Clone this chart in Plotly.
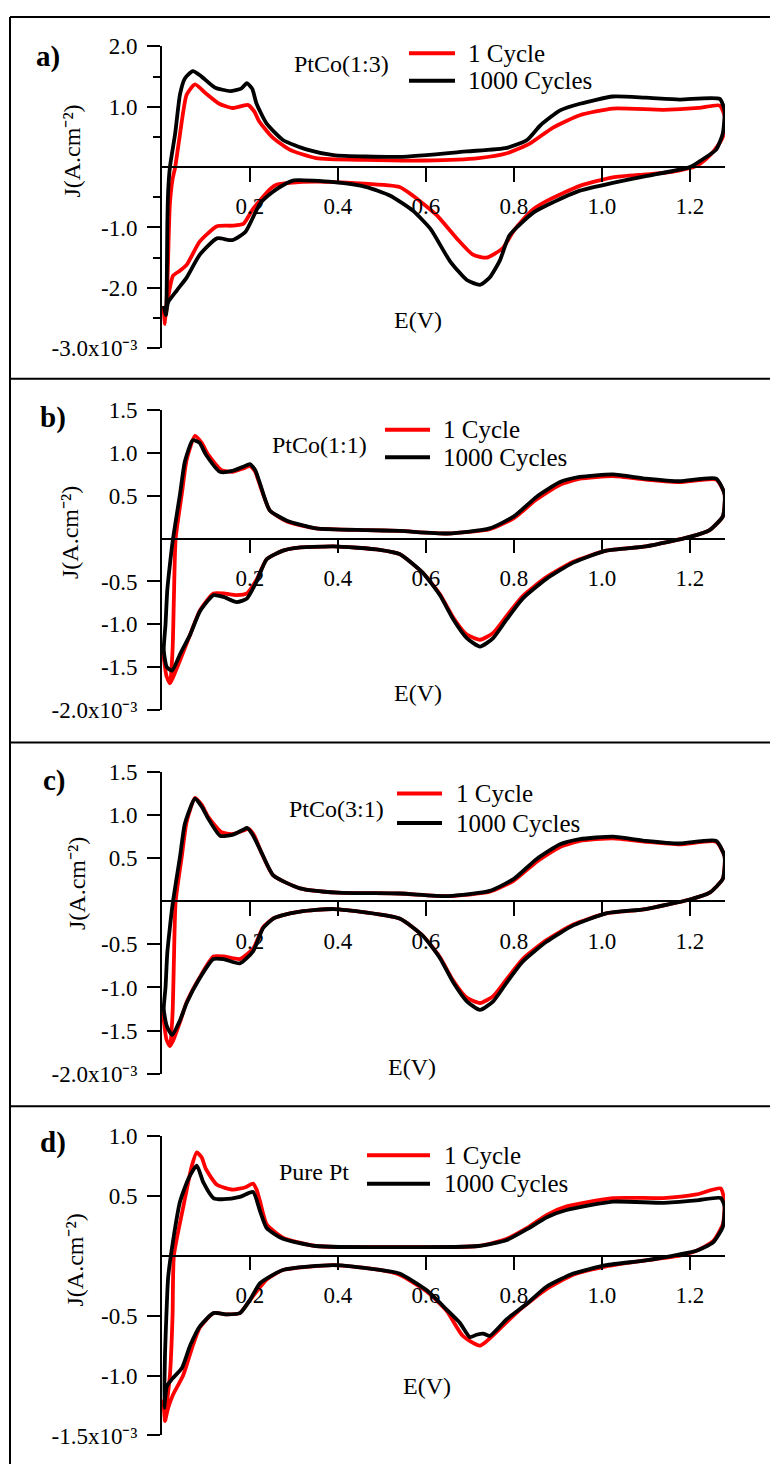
import plotly.graph_objects as go

W, H = 770, 1477
FONT = "Liberation Serif, Times New Roman, serif"

series_names = ["1 Cycle", "1000 Cycles"]
series_colors = ["#ff0000", "#000000"]
panel_tags = ["a)", "b)", "c)", "d)"]
panel_titles = ["PtCo(1:3)", "PtCo(1:1)", "PtCo(3:1)", "Pure Pt"]

x_tickvals = [0.2, 0.4, 0.6, 0.8, 1.0, 1.2]
x_ticktext = ["0.2", "0.4", "0.6", "0.8", "1.0", "1.2"]

# ---------------- panel a : PtCo(1:3) ----------------
a_c1_E = [0.003, 0.007, 0.012, 0.015, 0.018, 0.024, 0.03, 0.04, 0.056, 0.075, 0.1, 0.13, 0.16, 0.185, 0.196,
          0.21, 0.22, 0.25, 0.29, 0.35, 0.46, 0.6, 0.72, 0.784, 0.836, 0.89, 0.95, 1.025, 1.14, 1.22, 1.268,
          1.279, 1.275, 1.257, 1.235, 1.215, 1.16, 1.1, 1.025, 0.95, 0.875, 0.84, 0.8, 0.775, 0.738, 0.707,
          0.67, 0.625, 0.57, 0.54, 0.45, 0.35, 0.29, 0.26, 0.245, 0.207, 0.185, 0.16, 0.125, 0.086, 0.056,
          0.04, 0.025, 0.014, 0.009]
a_c1_J = [-2.3, -2.6, -2.0, -1.2, -0.6, -0.2, 0.0, 0.5, 1.2, 1.37, 1.22, 1.05, 0.98, 1.02, 1.03,
          0.92, 0.77, 0.5, 0.29, 0.15, 0.12, 0.11, 0.15, 0.23, 0.39, 0.66, 0.86, 0.97, 0.95, 0.98, 1.02,
          0.85, 0.5, 0.29, 0.12, 0.02, -0.08, -0.12, -0.17, -0.31, -0.56, -0.72, -1.05, -1.34, -1.5, -1.45,
          -1.18, -0.8, -0.47, -0.33, -0.27, -0.24, -0.26, -0.29, -0.37, -0.69, -0.94, -0.97, -0.98, -1.23, -1.62,
          -1.72, -1.8, -2.16, -2.45]
a_c1000_E = [0.004, 0.009, 0.011, 0.012, 0.014, 0.018, 0.03, 0.041, 0.052, 0.07, 0.09, 0.12, 0.155, 0.18, 0.193,
             0.205, 0.215, 0.238, 0.275, 0.33, 0.39, 0.54, 0.693, 0.784, 0.83, 0.86, 0.905, 0.95, 1.025, 1.1,
             1.177, 1.268, 1.279, 1.275, 1.26, 1.223, 1.2, 1.1, 1.025, 0.95, 0.89, 0.845, 0.79, 0.768, 0.745,
             0.723, 0.693, 0.655, 0.61, 0.57, 0.518, 0.465, 0.39, 0.3, 0.275, 0.25, 0.223, 0.19, 0.16, 0.125,
             0.086, 0.056, 0.034, 0.014, 0.009]
a_c1000_J = [-2.3, -2.45, -1.8, -1.0, -0.4, 0.0, 0.56, 1.21, 1.47, 1.59, 1.5, 1.32, 1.26, 1.3, 1.39,
             1.3, 1.05, 0.72, 0.45, 0.29, 0.2, 0.17, 0.26, 0.32, 0.45, 0.69, 0.94, 1.05, 1.17, 1.15,
             1.12, 1.13, 0.94, 0.56, 0.29, 0.1, 0.0, -0.15, -0.26, -0.39, -0.58, -0.75, -1.13, -1.55, -1.83,
             -1.95, -1.87, -1.56, -1.02, -0.72, -0.47, -0.33, -0.25, -0.22, -0.3, -0.42, -0.6, -1.07, -1.21, -1.18,
             -1.45, -1.83, -2.04, -2.24, -2.45]

# ---------------- panel b : PtCo(1:1) ----------------
b_c1_E = [0.002, 0.01, 0.018, 0.024, 0.027, 0.031, 0.045, 0.056, 0.075, 0.09, 0.105, 0.135, 0.16, 0.185, 0.2,
          0.212, 0.223, 0.245, 0.284, 0.35, 0.465, 0.54, 0.65, 0.745, 0.8, 0.852, 0.905, 0.95, 1.025, 1.1,
          1.177, 1.26, 1.279, 1.275, 1.245, 1.2, 1.1, 1.01, 0.935, 0.874, 0.82, 0.784, 0.753, 0.723, 0.693,
          0.662, 0.632, 0.593, 0.54, 0.495, 0.39, 0.3, 0.275, 0.238, 0.215, 0.193, 0.17, 0.14, 0.117, 0.086,
          0.064, 0.041, 0.025, 0.018]
b_c1_J = [-1.3, -1.6, -1.69, -1.3, -0.7, 0.0, 0.52, 0.92, 1.2, 1.12, 0.98, 0.8, 0.78, 0.82, 0.85,
          0.78, 0.62, 0.33, 0.2, 0.12, 0.1, 0.09, 0.06, 0.11, 0.24, 0.46, 0.63, 0.7, 0.73, 0.69,
          0.66, 0.69, 0.52, 0.26, 0.1, 0.02, -0.09, -0.14, -0.27, -0.45, -0.67, -0.9, -1.1, -1.18, -1.12,
          -0.92, -0.65, -0.4, -0.18, -0.13, -0.09, -0.11, -0.14, -0.24, -0.48, -0.64, -0.66, -0.64, -0.64, -0.84,
          -1.12, -1.42, -1.62, -1.69]
b_c1000_E = [0.004, 0.008, 0.012, 0.018, 0.025, 0.041, 0.052, 0.07, 0.085, 0.1, 0.132, 0.16, 0.185, 0.2,
             0.212, 0.223, 0.245, 0.284, 0.35, 0.465, 0.54, 0.65, 0.745, 0.8, 0.852, 0.905, 0.95, 1.025, 1.1,
             1.177, 1.26, 1.279, 1.275, 1.245, 1.2, 1.1, 1.01, 0.935, 0.874, 0.82, 0.784, 0.753, 0.723, 0.693,
             0.662, 0.632, 0.593, 0.54, 0.495, 0.39, 0.3, 0.275, 0.238, 0.215, 0.193, 0.17, 0.14, 0.117, 0.086,
             0.064, 0.041, 0.023, 0.011, 0.004]
b_c1000_J = [-1.3, -1.0, -0.6, -0.3, 0.0, 0.52, 0.9, 1.15, 1.12, 0.98, 0.78, 0.79, 0.84, 0.87,
             0.8, 0.64, 0.33, 0.21, 0.12, 0.1, 0.09, 0.06, 0.12, 0.26, 0.49, 0.66, 0.72, 0.75, 0.7,
             0.67, 0.7, 0.52, 0.26, 0.1, 0.02, -0.09, -0.14, -0.28, -0.47, -0.7, -0.94, -1.16, -1.26, -1.16,
             -0.94, -0.66, -0.4, -0.18, -0.13, -0.09, -0.11, -0.14, -0.24, -0.5, -0.7, -0.74, -0.68, -0.66, -0.85,
             -1.12, -1.35, -1.54, -1.5, -1.3]

# ---------------- panel c : PtCo(3:1) ----------------
c_c1_E = [0.002, 0.01, 0.018, 0.024, 0.027, 0.031, 0.045, 0.056, 0.075, 0.09, 0.105, 0.135, 0.16, 0.185, 0.197,
          0.21, 0.223, 0.253, 0.314, 0.4, 0.54, 0.65, 0.745, 0.8, 0.852, 0.905, 0.95, 1.025, 1.1,
          1.177, 1.26, 1.279, 1.275, 1.245, 1.2, 1.1, 1.01, 0.935, 0.874, 0.82, 0.784, 0.753, 0.723, 0.693,
          0.662, 0.632, 0.593, 0.54, 0.39, 0.314, 0.275, 0.253, 0.23, 0.207, 0.177, 0.14, 0.117, 0.086,
          0.056, 0.041, 0.025, 0.018]
c_c1_J = [-1.28, -1.6, -1.68, -1.3, -0.7, 0.0, 0.52, 0.92, 1.2, 1.12, 0.98, 0.8, 0.78, 0.82, 0.84,
          0.76, 0.6, 0.3, 0.15, 0.1, 0.09, 0.06, 0.11, 0.24, 0.46, 0.63, 0.7, 0.73, 0.69,
          0.66, 0.69, 0.52, 0.26, 0.1, 0.02, -0.09, -0.14, -0.27, -0.45, -0.67, -0.9, -1.1, -1.18, -1.12,
          -0.92, -0.65, -0.4, -0.2, -0.09, -0.12, -0.16, -0.2, -0.3, -0.55, -0.67, -0.64, -0.64, -0.88,
          -1.17, -1.4, -1.62, -1.68]
c_c1000_E = [0.004, 0.008, 0.012, 0.018, 0.025, 0.041, 0.052, 0.075, 0.09, 0.105, 0.132, 0.16, 0.185, 0.193,
             0.205, 0.223, 0.253, 0.314, 0.4, 0.54, 0.65, 0.745, 0.8, 0.852, 0.905, 0.95, 1.025, 1.1,
             1.177, 1.26, 1.279, 1.275, 1.245, 1.2, 1.1, 1.01, 0.935, 0.874, 0.82, 0.784, 0.753, 0.723, 0.693,
             0.662, 0.632, 0.593, 0.54, 0.39, 0.314, 0.275, 0.253, 0.23, 0.207, 0.177, 0.14, 0.117, 0.086,
             0.056, 0.041, 0.023, 0.011, 0.004]
c_c1000_J = [-1.25, -1.0, -0.6, -0.3, 0.0, 0.52, 0.9, 1.19, 1.1, 0.96, 0.76, 0.77, 0.83, 0.85,
             0.78, 0.6, 0.3, 0.15, 0.1, 0.09, 0.06, 0.12, 0.26, 0.49, 0.66, 0.72, 0.75, 0.7,
             0.67, 0.7, 0.52, 0.26, 0.1, 0.02, -0.09, -0.14, -0.28, -0.47, -0.7, -0.94, -1.16, -1.26, -1.16,
             -0.94, -0.66, -0.4, -0.2, -0.09, -0.12, -0.16, -0.2, -0.31, -0.58, -0.72, -0.67, -0.67, -0.89,
             -1.18, -1.38, -1.55, -1.45, -1.25]

# ---------------- panel d : Pure Pt ----------------
d_c1_E = [0.003, 0.007, 0.012, 0.018, 0.024, 0.027, 0.048, 0.068, 0.079, 0.09, 0.1, 0.125, 0.161, 0.19, 0.207,
          0.215, 0.223, 0.238, 0.275, 0.35, 0.54, 0.72, 0.784, 0.83, 0.875, 0.92, 1.025, 1.14, 1.215, 1.27,
          1.279, 1.275, 1.253, 1.215, 1.177, 1.1, 1.01, 0.935, 0.874, 0.814, 0.768, 0.723, 0.684, 0.647,
          0.602, 0.54, 0.495, 0.39, 0.275, 0.238, 0.2, 0.177, 0.148, 0.117, 0.086, 0.07, 0.048, 0.025,
          0.014, 0.007]
d_c1_J = [-1.2, -1.38, -1.2, -1.0, -0.5, 0.0, 0.4, 0.75, 0.86, 0.82, 0.72, 0.59, 0.55, 0.57, 0.6,
          0.55, 0.45, 0.26, 0.15, 0.08, 0.07, 0.08, 0.14, 0.23, 0.34, 0.41, 0.48, 0.48, 0.51, 0.56,
          0.45, 0.26, 0.12, 0.04, 0.0, -0.04, -0.09, -0.16, -0.28, -0.45, -0.61, -0.75, -0.67, -0.46,
          -0.3, -0.16, -0.12, -0.08, -0.12, -0.2, -0.37, -0.48, -0.49, -0.48, -0.6, -0.75, -1.0, -1.16,
          -1.27, -1.38]
d_c1000_E = [0.005, 0.007, 0.011, 0.014, 0.025, 0.041, 0.06, 0.079, 0.094, 0.117, 0.14, 0.177, 0.207, 0.223,
             0.238, 0.275, 0.35, 0.54, 0.72, 0.784, 0.83, 0.875, 0.92, 1.025, 1.14, 1.215, 1.27, 1.279, 1.275,
             1.253, 1.215, 1.177, 1.1, 1.01, 0.935, 0.874, 0.83, 0.784, 0.745, 0.73, 0.715, 0.7, 0.677, 0.647,
             0.602, 0.54, 0.495, 0.39, 0.275, 0.223, 0.2, 0.177, 0.148, 0.117, 0.086, 0.064, 0.045, 0.025,
             0.011, 0.007, 0.005]
d_c1000_J = [-1.27, -0.8, -0.4, -0.18, 0.12, 0.45, 0.64, 0.75, 0.61, 0.48, 0.47, 0.49, 0.53, 0.37,
             0.23, 0.14, 0.08, 0.07, 0.08, 0.13, 0.22, 0.32, 0.38, 0.45, 0.44, 0.46, 0.48, 0.41, 0.24,
             0.11, 0.04, 0.01, -0.04, -0.08, -0.15, -0.26, -0.4, -0.53, -0.67, -0.65, -0.66, -0.68, -0.56, -0.45,
             -0.29, -0.15, -0.12, -0.08, -0.12, -0.23, -0.37, -0.48, -0.49, -0.48, -0.59, -0.75, -0.94, -1.02,
             -1.09, -1.2, -1.27]

# y-axis ticks per panel
a_ytickvals = [2.0, 1.0, -1.0, -2.0, -3.0]
a_yticktext = ["2.0", "1.0", "-1.0", "-2.0", "-3.0x10⁻³"]
a_yminor = [1.5, 0.5, -0.5, -1.5, -2.5]
bc_ytickvals = [1.5, 1.0, 0.5, -0.5, -1.0, -1.5, -2.0]
bc_yticktext = ["1.5", "1.0", "0.5", "-0.5", "-1.0", "-1.5", "-2.0x10⁻³"]
d_ytickvals = [1.0, 0.5, -0.5, -1.0, -1.5]
d_yticktext = ["1.0", "0.5", "-0.5", "-1.0", "-1.5x10⁻³"]
y_title = "J(A.cm⁻²)"
x_title = "E(V)"

# ---------------- layout geometry (pixels) ----------------
panels = [
    dict(series=[(a_c1_E, a_c1_J), (a_c1000_E, a_c1000_J)], yrange=[-3.0, 2.0], top=35, bot=342,
         tv=a_ytickvals, tt=a_yticktext, minor=a_yminor,
         tag_xy=(48, 45), title_xy=(341, 53), leg=(409, 455, 466, 42, 70),
         ev_xy=(418, 313), jt_xy=(72, 142)),
    dict(series=[(b_c1_E, b_c1_J), (b_c1000_E, b_c1000_J)], yrange=[-2.0, 1.5], top=405, bot=710,
         tv=bc_ytickvals, tt=bc_yticktext, minor=None,
         tag_xy=(53, 412), title_xy=(319, 440), leg=(385, 430, 441, 425, 453),
         ev_xy=(418, 693), jt_xy=(70, 530)),
    dict(series=[(c_c1_E, c_c1_J), (c_c1000_E, c_c1000_J)], yrange=[-2.0, 1.5], top=773, bot=1080,
         tv=bc_ytickvals, tt=bc_yticktext, minor=None,
         tag_xy=(54, 782), title_xy=(336, 811), leg=(397, 442, 454, 795, 825),
         ev_xy=(412, 1073), jt_xy=(77, 887)),
    dict(series=[(d_c1_E, d_c1_J), (d_c1000_E, d_c1000_J)], yrange=[-1.5, 1.0], top=1143, bot=1448,
         tv=d_ytickvals, tt=d_yticktext, minor=None,
         tag_xy=(53, 1150), title_xy=(314, 1180), leg=(367, 430, 442, 1163, 1192),
         ev_xy=(427, 1398), jt_xy=(75, 1270)),
]


def px(x):
    return x / W


def py(y):
    return 1 - y / H


X0, X1 = 162, 725
fig = go.Figure()
shapes = []
annotations = []
tickfont = dict(family=FONT, size=23, color="black")

for i, p in enumerate(panels):
    n = "" if i == 0 else str(i + 1)
    for k, (E, J) in enumerate(p["series"]):
        fig.add_trace(go.Scatter(
            x=E, y=J, mode="lines", name=series_names[k], showlegend=False,
            line=dict(color=series_colors[k], width=3.8, shape="spline", smoothing=0.55),
            xaxis="x" + n, yaxis="y" + n, hoverinfo="skip"))
    ymin, ymax = p["yrange"]
    y0_px = p["top"] + (ymax - 0) / (ymax - ymin) * (p["bot"] - p["top"])
    xa = dict(domain=[px(X0), px(X1)], range=[0, 1.28], anchor="free", position=py(y0_px),
              showline=True, linecolor="black", linewidth=1.5, ticks="outside", ticklen=14,
              tickwidth=2, tickcolor="black", tickvals=x_tickvals, ticktext=x_ticktext,
              tickfont=tickfont, showgrid=False, zeroline=False, ticklabelstandoff=5, fixedrange=True)
    ya = dict(domain=[py(p["bot"]), py(p["top"])], range=p["yrange"], anchor="x" + n,
              showline=True, linecolor="black", linewidth=2, ticks="outside", ticklen=13,
              tickwidth=2, tickcolor="black", tickvals=p["tv"], ticktext=p["tt"],
              tickfont=tickfont, showgrid=False, zeroline=False, ticklabelstandoff=5, fixedrange=True)
    if p["minor"]:
        ya["minor"] = dict(tickvals=p["minor"], ticks="outside", ticklen=7, tickwidth=2,
                           tickcolor="black", showgrid=False)
    fig.update_layout(**{"xaxis" + n: xa, "yaxis" + n: ya})

    # panel tag
    annotations.append(dict(x=px(p["tag_xy"][0]), y=py(p["tag_xy"][1]), xref="paper", yref="paper",
                            text="<b>" + panel_tags[i] + "</b>", showarrow=False,
                            font=dict(family=FONT, size=29, color="black"), xanchor="center", yanchor="middle"))
    # sample title
    annotations.append(dict(x=px(p["title_xy"][0]), y=py(p["title_xy"][1]), xref="paper", yref="paper",
                            text=panel_titles[i], showarrow=False,
                            font=dict(family=FONT, size=24, color="black"), xanchor="center", yanchor="middle"))
    # legend
    lx0, lx1, tx, r1, r2 = p["leg"]
    for k, ry in enumerate([r1, r2]):
        shapes.append(dict(type="line", xref="paper", yref="paper", x0=px(lx0), x1=px(lx1),
                           y0=py(ry), y1=py(ry), line=dict(color=series_colors[k], width=4)))
        annotations.append(dict(x=px(tx), y=py(ry), xref="paper", yref="paper", text=series_names[k],
                                showarrow=False, font=dict(family=FONT, size=25, color="black"),
                                xanchor="left", yanchor="middle"))
    # axis titles
    annotations.append(dict(x=px(p["ev_xy"][0]), y=py(p["ev_xy"][1]), xref="paper", yref="paper",
                            text=x_title, showarrow=False, font=dict(family=FONT, size=24, color="black"),
                            xanchor="center", yanchor="middle"))
    annotations.append(dict(x=px(p["jt_xy"][0]), y=py(p["jt_xy"][1]), xref="paper", yref="paper",
                            text=y_title, textangle=-90, showarrow=False,
                            font=dict(family=FONT, size=24, color="black"),
                            xanchor="center", yanchor="middle"))

# frame lines around panels
shapes.append(dict(type="line", xref="paper", yref="paper", x0=px(10), x1=px(10), y0=py(5), y1=0,
                   line=dict(color="black", width=2)))
for yy in [5, 373, 743, 1113]:
    shapes.append(dict(type="line", xref="paper", yref="paper", x0=px(10), x1=1, y0=py(yy), y1=py(yy),
                       line=dict(color="black", width=2)))

fig.update_layout(width=W, height=H, margin=dict(l=0, r=0, t=0, b=0), autosize=False,
                  paper_bgcolor="white", plot_bgcolor="white", shapes=shapes, annotations=annotations,
                  showlegend=False, font=dict(family=FONT, size=22, color="black"))

fig.write_html("out.html", post_script="document.body.style.margin='0';",
               config={"displayModeBar": False, "responsive": False})
